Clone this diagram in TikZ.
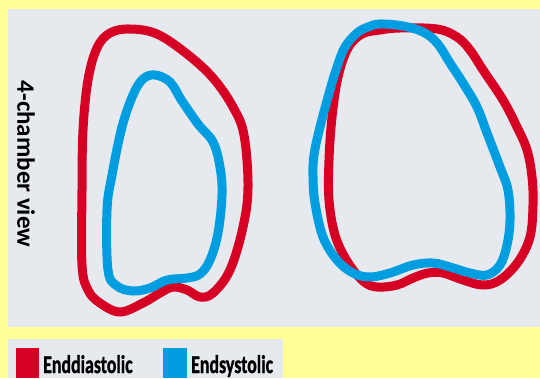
\documentclass[tikz,border=0pt]{standalone}
\usepackage{fontspec}
\setmainfont{Carlito}
\newfontfamily\legfont{Carlito Bold}[FakeBold=1.2]
\definecolor{bgyellow}{HTML}{FFFF99}
\definecolor{panelgray}{HTML}{E6E9EE}
\definecolor{edred}{HTML}{D50023}
\definecolor{esblue}{HTML}{009EE0}
\begin{document}
\begin{tikzpicture}[x=1pt,y=-1pt,
  legtext/.style={anchor=base west, inner sep=0pt, font=\fontsize{25.5}{30}\legfont}]
\useasboundingbox (0,0) rectangle (540,378);
\fill[bgyellow] (0,0) rectangle (540,378);
\fill[panelgray] (8,9) rectangle (540,327);
\fill[panelgray] (8,339) rectangle (283,378);

% left heart
\draw[edred, line width=9pt, line join=round] plot[smooth cycle, tension=0.6] coordinates {
 (130,29) (157,34) (187,54) (213,78) (233,107) (244,135) (248,187) (243,227)
 (230,270) (213,293) (200,297) (187,290) (173,287) (160,293) (143,303) (120,312)
 (100,303) (88,290) (82,265) (82,190) (83,130) (88,80) (97,48) (110,33)};
\draw[esblue, line width=9pt, line join=round] plot[smooth cycle, tension=0.6] coordinates {
 (155,75) (170,82) (182,101) (198,124) (213,142) (220,167) (222,195) (218,233)
 (210,260) (200,274) (187,278) (167,280) (150,288) (133,291) (117,286) (108,270)
 (107,210) (112,175) (122,127) (133,95) (143,79)};

% right heart
\draw[edred, line width=9pt, line join=round] plot[smooth cycle, tension=0.6] coordinates {
 (400,28) (437,29) (457,37) (470,50) (483,70) (503,100) (517,127) (527,150)
 (532,177) (533,205) (530,237) (518,262) (500,280) (483,285) (463,280) (443,273)
 (428,273) (413,278) (397,285) (377,287) (363,281) (347,261) (335,235) (329,200)
 (329,160) (332,117) (338,77) (348,48) (362,34) (380,30)};
\draw[esblue, line width=9pt, line join=round] plot[smooth cycle, tension=0.6] coordinates {
 (380,24) (403,26) (423,32) (437,43) (450,63) (463,83) (477,107) (487,133)
 (500,167) (508,190) (510,220) (507,245) (500,265) (487,275) (470,273) (450,267)
 (433,263) (413,265) (390,273) (370,277) (353,273) (337,260) (323,237) (315,203)
 (313,177) (314,155) (320,127) (330,90) (337,67) (345,47) (357,33) (368,27)};

% side label
\node[rotate=-90, inner sep=0pt, font=\fontsize{25}{30}\selectfont\bfseries] (view) at (26,164) {4-chamber view};

% legend
\fill[edred] (16,348) rectangle (39,378);
\fill[esblue] (163,348) rectangle (187,378);
\node[legtext] (enddia) at (43,373) {\scalebox{0.7}[1]{Enddiastolic}};
\node[legtext] (endsys) at (191,373) {\scalebox{0.7}[1]{Endsystolic}};
\end{tikzpicture}
\end{document}
